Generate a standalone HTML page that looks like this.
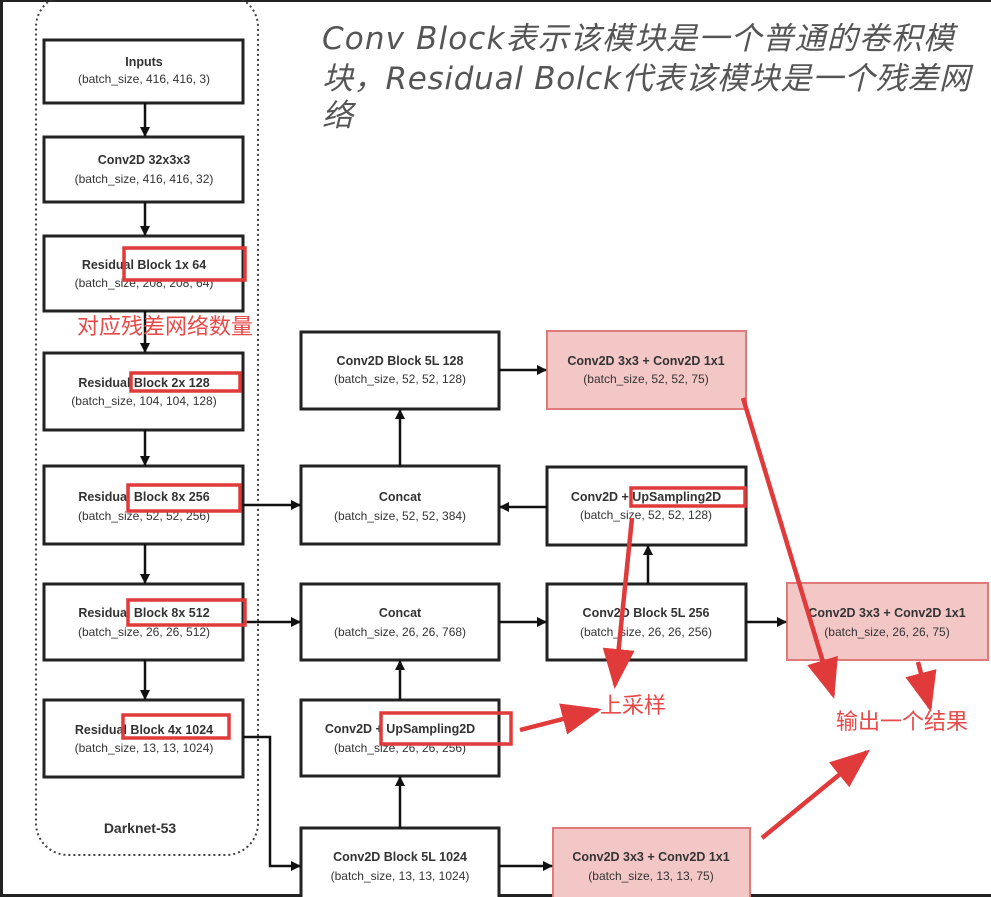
<!DOCTYPE html>
<html><head><meta charset="utf-8"><style>
body{margin:0;width:991px;height:897px;overflow:hidden;background:#fff;}
</style></head><body>
<svg width="991" height="897" xmlns="http://www.w3.org/2000/svg" style="position:absolute;left:0;top:0">
<defs>
<marker id="a" markerWidth="10" markerHeight="10" refX="9" refY="5" orient="auto" markerUnits="userSpaceOnUse"><path d="M0,0 L10,5 L0,10 z" fill="#111"/></marker>
<marker id="r" markerWidth="40" markerHeight="40" refX="36" refY="20" orient="auto" markerUnits="userSpaceOnUse"><path d="M0,4 L40,20 L0,36 z" fill="#e03a3a"/></marker>
</defs>
<rect x="0" y="0" width="991" height="897" fill="#fff"/>
<rect x="0" y="0" width="3" height="897" fill="#222"/>
<rect x="0" y="0" width="991" height="2" fill="#222"/>
<rect x="0" y="894" width="991" height="3" fill="#222"/>
<rect x="36" y="-5" width="222" height="860" rx="32" fill="none" stroke="#444" stroke-width="2" stroke-dasharray="2,3"/>
<g fill="#fff" stroke="#222" stroke-width="3">
<rect x="44" y="40" width="199" height="63"/>
<rect x="44" y="137" width="199" height="65"/>
<rect x="44" y="236" width="199" height="75"/>
<rect x="44" y="353" width="199" height="77"/>
<rect x="44" y="466" width="199" height="78"/>
<rect x="44" y="584" width="199" height="76"/>
<rect x="44" y="700" width="199" height="77"/>
<rect x="301" y="332" width="198" height="77"/>
<rect x="301" y="466" width="198" height="78"/>
<rect x="301" y="584" width="198" height="76"/>
<rect x="301" y="700" width="198" height="76"/>
<rect x="301" y="828" width="198" height="75"/>
<rect x="547" y="467" width="199" height="78"/>
<rect x="547" y="584" width="199" height="76"/>
</g>
<g fill="#f4c7c7" stroke="#e07a7a" stroke-width="2">
<rect x="547" y="331" width="199" height="78"/>
<rect x="787" y="583" width="201" height="77"/>
<rect x="553" y="828" width="197" height="75"/>
</g>
<g stroke="#111" stroke-width="2.5" fill="none" marker-end="url(#a)">
<line x1="145" y1="103" x2="145" y2="136"/>
<line x1="145" y1="202" x2="145" y2="235"/>
<line x1="145" y1="311" x2="145" y2="352"/>
<line x1="145" y1="430" x2="145" y2="465"/>
<line x1="145" y1="544" x2="145" y2="583"/>
<line x1="145" y1="660" x2="145" y2="699"/>
<line x1="243" y1="505" x2="300" y2="505"/>
<line x1="243" y1="622" x2="300" y2="622"/>
<polyline points="243,737 270,737 270,866 300,866"/>
<line x1="400" y1="828" x2="400" y2="777"/>
<line x1="400" y1="700" x2="400" y2="661"/>
<line x1="400" y1="466" x2="400" y2="410"/>
<line x1="499" y1="370" x2="546" y2="370"/>
<line x1="547" y1="507" x2="500" y2="507"/>
<line x1="648" y1="584" x2="648" y2="546"/>
<line x1="499" y1="622" x2="546" y2="622"/>
<line x1="746" y1="622" x2="786" y2="622"/>
<line x1="499" y1="866" x2="552" y2="866"/>
</g>
<g font-family="Liberation Sans, sans-serif" text-anchor="middle" fill="#333">
<g font-weight="bold" font-size="12.5">
<text x="144" y="66">Inputs</text>
<text x="144" y="164">Conv2D 32x3x3</text>
<text x="144" y="269">Residual Block 1x  64</text>
<text x="144" y="387">Residual Block 2x  128</text>
<text x="144" y="501">Residual Block 8x  256</text>
<text x="144" y="617">Residual Block 8x  512</text>
<text x="144" y="734">Residual Block 4x  1024</text>
<text x="400" y="365">Conv2D Block 5L  128</text>
<text x="400" y="501">Concat</text>
<text x="400" y="617">Concat</text>
<text x="400" y="733">Conv2D + UpSampling2D</text>
<text x="400" y="861">Conv2D Block 5L  1024</text>
<text x="646" y="365">Conv2D 3x3 + Conv2D 1x1</text>
<text x="646" y="501">Conv2D + UpSampling2D</text>
<text x="646" y="617">Conv2D Block 5L  256</text>
<text x="887" y="617">Conv2D 3x3 + Conv2D 1x1</text>
<text x="651" y="861">Conv2D 3x3 + Conv2D 1x1</text>
</g>
<g font-size="12">
<text x="144" y="83">(batch_size, 416, 416, 3)</text>
<text x="144" y="183">(batch_size, 416, 416, 32)</text>
<text x="144" y="287">(batch_size, 208, 208, 64)</text>
<text x="144" y="405">(batch_size, 104, 104, 128)</text>
<text x="144" y="520">(batch_size, 52, 52, 256)</text>
<text x="144" y="636">(batch_size, 26, 26, 512)</text>
<text x="144" y="752">(batch_size, 13, 13, 1024)</text>
<text x="400" y="383">(batch_size, 52, 52, 128)</text>
<text x="400" y="520">(batch_size, 52, 52, 384)</text>
<text x="400" y="636">(batch_size, 26, 26, 768)</text>
<text x="400" y="752">(batch_size, 26, 26, 256)</text>
<text x="400" y="880">(batch_size, 13, 13, 1024)</text>
<text x="646" y="383">(batch_size, 52, 52, 75)</text>
<text x="646" y="519">(batch_size, 52, 52, 128)</text>
<text x="646" y="636">(batch_size, 26, 26, 256)</text>
<text x="887" y="636">(batch_size, 26, 26, 75)</text>
<text x="651" y="880">(batch_size, 13, 13, 75)</text>
</g>
<text x="140" y="833" font-size="14" font-weight="bold">Darknet-53</text>
</g>
<g fill="none" stroke="#e03a3a" stroke-width="3.5">
<rect x="124" y="248" width="121" height="32"/>
<rect x="131" y="373" width="109" height="18"/>
<rect x="128" y="485" width="112" height="26"/>
<rect x="128" y="600" width="117" height="25"/>
<rect x="123" y="715" width="106" height="23"/>
<rect x="381" y="713" width="130" height="31"/>
<rect x="631" y="488" width="114" height="18"/>
</g>
<g stroke="#e03a3a" stroke-width="4.5" marker-end="url(#r)">
<line x1="743" y1="398" x2="833" y2="695"/>
<line x1="632" y1="518" x2="615" y2="685"/>
<line x1="520" y1="730" x2="598" y2="710"/>
<line x1="762" y1="838" x2="867" y2="752"/>
<line x1="918" y1="662" x2="930" y2="708"/>
</g>
<g font-family="Liberation Sans, 'Noto Sans CJK SC', sans-serif" fill="#e84a4a">
<text x="77" y="334" font-size="22">对应残差网络数量</text>
<text x="600" y="713" font-size="22">上采样</text>
<text x="836" y="729" font-size="22">输出一个结果</text>
</g>
<g font-family="'DejaVu Sans', 'Noto Sans CJK SC', sans-serif" font-style="italic" fill="#555" font-size="31">
<text x="322" y="49" textLength="632">Conv Block表示该模块是一个普通的卷积模</text>
<text x="322" y="89" textLength="648">块，Residual Bolck代表该模块是一个残差网</text>
<text x="322" y="126">络</text>
</g>
</svg>
</body></html>
